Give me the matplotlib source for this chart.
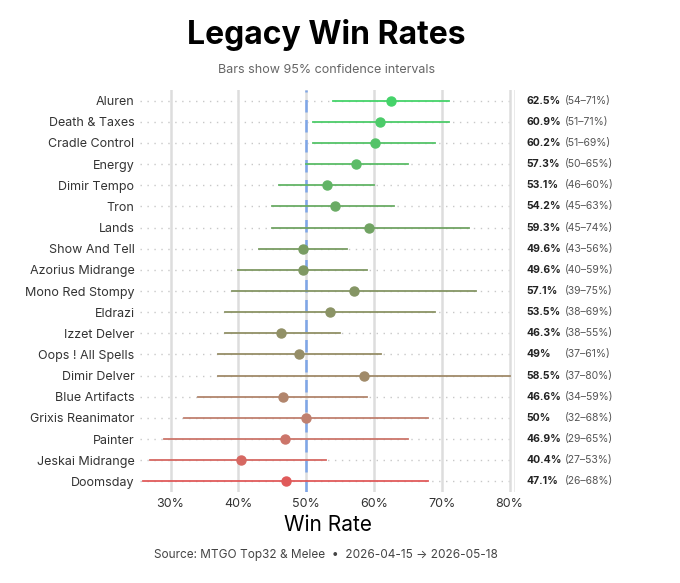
import matplotlib.pyplot as plt
import numpy as np
from matplotlib.colors import LinearSegmentedColormap

plt.rcParams['font.family'] = ['Inter', 'DejaVu Sans']

decks = ["Aluren", "Death & Taxes", "Cradle Control", "Energy", "Dimir Tempo", "Tron",
         "Lands", "Show And Tell", "Azorius Midrange", "Mono Red Stompy", "Eldrazi",
         "Izzet Delver", "Oops ! All Spells", "Dimir Delver", "Blue Artifacts",
         "Grixis Reanimator", "Painter", "Jeskai Midrange", "Doomsday"]
win_rate = [62.5, 60.9, 60.2, 57.3, 53.1, 54.2, 59.3, 49.6, 49.6, 57.1, 53.5, 46.3,
            49.0, 58.5, 46.6, 50.0, 46.9, 40.4, 47.1]
ci_low = [54, 51, 51, 50, 46, 45, 45, 43, 40, 39, 38, 38, 37, 37, 34, 32, 29, 27, 26]
ci_high = [71, 71, 69, 65, 60, 63, 74, 56, 59, 75, 69, 55, 61, 80, 59, 68, 65, 53, 68]
wr_labels = ["62.5%", "60.9%", "60.2%", "57.3%", "53.1%", "54.2%", "59.3%", "49.6%",
             "49.6%", "57.1%", "53.5%", "46.3%", "49%", "58.5%", "46.6%", "50%",
             "46.9%", "40.4%", "47.1%"]

cmap = LinearSegmentedColormap.from_list(
    "g2r", [(0, "#45d36a"), (0.4, "#7a9a62"), (0.7, "#9a8c68"), (0.85, "#c47f70"), (1, "#e05a5a")])

fig = plt.figure(figsize=(6.8, 5.83), dpi=100)
ax = fig.add_axes([140/680, 1-492/583, 375/680, 402/583])
n = len(decks)
y = np.arange(n)
for i in range(n):
    c = cmap(i / (n - 1))
    ax.plot([25.5, 80.8], [i, i], ls=(0, (1, 4)), color="#c8c8c8", lw=1, zorder=0)
    ax.plot([ci_low[i], ci_high[i]], [i, i], color=c, lw=1.3, zorder=2)
    ax.plot(win_rate[i], i, "o", color=c, ms=6.5, zorder=3)
    ax.text(82.5, i, wr_labels[i], fontsize=7.5, fontweight="bold", color="#222222",
            va="center", clip_on=False)
    ax.text(88.2, i, f"({ci_low[i]}–{ci_high[i]}%)", fontsize=7.5, color="#555555",
            va="center", clip_on=False)
for xv in range(30, 81, 10):
    ax.axvline(xv, color="#dddddd", lw=1.8, zorder=0)
ax.axvline(80.8, color="#e6e6e6", lw=1.2, zorder=0)
ax.axvline(50, color="#7ea6e8", lw=1.8, ls=(0, (5, 3)), zorder=1)
ax.set_xlim(25.5, 80.8)
ax.set_ylim(n - 0.5, -0.5)
ax.set_yticks(y)
ax.set_yticklabels(decks, fontsize=9, color="#333333")
ax.set_xticks(range(30, 81, 10))
ax.set_xticklabels([f"{v}%" for v in range(30, 81, 10)], fontsize=9, color="#333333")
ax.tick_params(length=0, pad=4)
for s in ax.spines.values():
    s.set_visible(False)
ax.set_xlabel("Win Rate", fontsize=15, labelpad=4)

fig.text(0.48, 1-35/583, "Legacy Win Rates", fontsize=23, fontweight="bold", ha="center", va="center")
fig.text(0.48, 1-70/583, "Bars show 95% confidence intervals", fontsize=9, color="#666666",
         ha="center", va="center")
fig.text(0.48, 1-555/583, "Source: MTGO Top32 & Melee  •  2026-04-15 → 2026-05-18", fontsize=8.5,
         color="#444444", ha="center", va="center")
fig.savefig("out.png", dpi=100, facecolor="white")
